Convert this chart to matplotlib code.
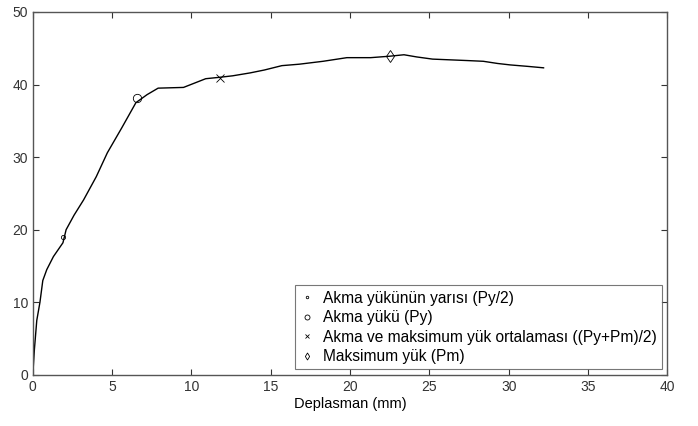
import numpy as np
import matplotlib
matplotlib.use("Agg")
import matplotlib.pyplot as plt

plt.rcParams['font.family'] = ['Liberation Sans', 'DejaVu Sans']

""" Load-displacement curve read from the picture """
deplasman = [0.0, 0.1, 0.25, 0.45, 0.63, 0.88, 1.3, 1.9, 2.1, 2.6, 3.2, 4.0, 4.7, 5.6,
             6.5, 7.2, 7.9, 9.5, 10.2, 10.9, 11.8, 12.6, 13.7, 14.6, 15.7, 16.8,
             18.3, 19.8, 21.3, 22.5, 23.4, 24.2, 25.2, 26.3, 27.4, 28.4, 29.3,
             30.1, 31.2, 32.2]
yuk = [0.0, 3.5, 7.5, 10.0, 13.0, 14.5, 16.3, 18.2, 20.0, 22.0, 24.1, 27.3, 30.6, 34.0,
       37.5, 38.6, 39.5, 39.6, 40.2, 40.8, 41.0, 41.2, 41.6, 42.0, 42.6, 42.8,
       43.2, 43.7, 43.7, 43.9, 44.1, 43.8, 43.5, 43.4, 43.3, 43.2, 42.9,
       42.7, 42.5, 42.3]

""" Characteristic points """
nokta_isim = ["Akma yükünün yarısı (Py/2)", "Akma yükü (Py)",
              "Akma ve maksimum yük ortalaması ((Py+Pm)/2)", "Maksimum yük (Pm)"]
nokta_x = [1.9, 6.6, 11.8, 22.5]
nokta_y = [19.0, 38.1, 40.95, 43.9]
nokta_marker = [".", "o", "x", "d"]

fig = plt.figure(figsize=(6.98, 4.26), dpi=100)
ax = fig.add_axes([0.047, 0.12, 0.909, 0.852])

ax.plot(deplasman, yuk, color='black', linewidth=1.0)
for isim, x, y, m in zip(nokta_isim, nokta_x, nokta_y, nokta_marker):
    ax.plot(x, y, linestyle='none', marker=m, markersize=6, markerfacecolor='none',
            markeredgecolor='black', markeredgewidth=0.6, label=isim)

ax.set_xlim(0, 40)
ax.set_ylim(0, 50)
ax.set_xticks(np.arange(0, 41, 5))
ax.set_yticks(np.arange(0, 51, 10))
ax.tick_params(direction='in', top=True, right=True, length=4, labelsize=10, colors='#333333')
for s in ax.spines.values():
    s.set_color('#555555')
    s.set_linewidth(1.0)

ax.set_xlabel('Deplasman (mm)', fontsize=10.5, labelpad=2)

leg = ax.legend(loc='lower right', fontsize=11.2, frameon=True, fancybox=False,
                edgecolor='#555555', borderpad=0.35, labelspacing=0.28,
                handlelength=0.8, handletextpad=0.6, borderaxespad=0.35,
                markerscale=0.6)
leg.get_frame().set_linewidth(0.8)

plt.savefig('out.png', dpi=100)
